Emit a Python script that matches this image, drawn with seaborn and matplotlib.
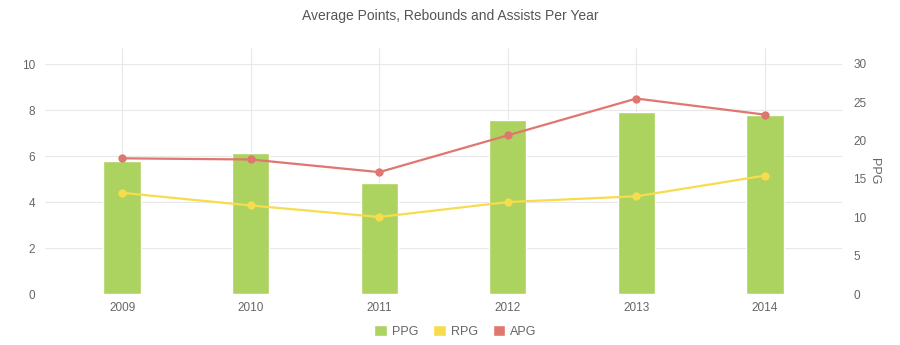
import numpy as np
import pandas as pd
import matplotlib
matplotlib.use("Agg")
import matplotlib.pyplot as plt
from matplotlib.patches import Patch
from matplotlib.ticker import MultipleLocator
import seaborn as sns

years = ["2009", "2010", "2011", "2012", "2013", "2014"]
ppg = [17.4, 18.4, 14.5, 22.7, 23.8, 23.3]
rpg = [4.4, 3.85, 3.35, 4.0, 4.25, 5.15]
apg = [5.9, 5.85, 5.3, 6.9, 8.5, 7.8]

GREEN = "#acd35f"
YELLOW = "#f7dc4e"
RED = "#e07670"
TXT = "#666666"
GRID = "#e8e8e8"

sns.set_theme(style="white")
plt.rcParams["font.family"] = ["Liberation Sans", "DejaVu Sans"]

fig = plt.figure(figsize=(9, 3.45), dpi=100)
ax = fig.add_axes([0.05, 0.1478, 0.8856, 0.7132])

df = pd.DataFrame({"year": years, "PPG": ppg, "RPG": rpg, "APG": apg})

# Bars (PPG) on primary axis, shown on the right
sns.barplot(data=df, x="year", y="PPG", order=years, color=GREEN,
            width=0.29, saturation=1, ax=ax, zorder=2)

# Lines (RPG, APG) on twin axis, shown on the left
ax2 = ax.twinx()
xpos = np.arange(len(years))
sns.lineplot(x=xpos, y=rpg, color=YELLOW, marker="o", markersize=6,
             markeredgewidth=0, linewidth=1.6, ax=ax2)
sns.lineplot(x=xpos, y=apg, color=RED, marker="o", markersize=6,
             markeredgewidth=0, linewidth=1.6, ax=ax2)

ax.set_xlim(-0.6, 5.6)
ax.set_ylim(0, 32.09)
ax.yaxis.tick_right()
ax.yaxis.set_label_position("right")
ax.set_yticks([0, 5, 10, 15, 20, 25, 30])
ax.yaxis.set_minor_locator(MultipleLocator(6))
ax.yaxis.remove_overlapping_locs = False
ax.grid(which="minor", axis="y", color=GRID, linewidth=0.8, zorder=0)
ax.grid(which="major", axis="x", color=GRID, linewidth=0.8, zorder=0)
ax.set_axisbelow(True)
ax.tick_params(axis="y", which="both", length=0, labelsize=8.5, labelcolor=TXT, pad=8,
               left=False, labelleft=False, right=False, labelright=True)
ax.tick_params(axis="x", length=0, labelsize=8.5, labelcolor=TXT, pad=6)
ax.set_xlabel("")
ax.set_ylabel("PPG", color=TXT, fontsize=9, rotation=270, labelpad=10)
for s in ax.spines.values():
    s.set_visible(False)

ax2.set_ylim(0, 10.7)
ax2.set_yticks([0, 2, 4, 6, 8, 10])
ax2.yaxis.tick_left()
ax2.tick_params(axis="y", length=0, labelsize=8.5, labelcolor=TXT, pad=7,
                left=False, labelleft=True, right=False, labelright=False)
ax2.set_ylabel("")
for s in ax2.spines.values():
    s.set_visible(False)

fig.suptitle("Average Points, Rebounds and Assists Per Year", y=0.975,
             fontsize=10, color="#555555")

handles = [Patch(facecolor=GREEN, label="PPG"),
           Patch(facecolor=YELLOW, label="RPG"),
           Patch(facecolor=RED, label="APG")]
fig.legend(handles=handles, loc="center", bbox_to_anchor=(0.506, 0.04),
           ncol=3, frameon=False, fontsize=9, labelcolor=TXT,
           handlelength=1.0, handleheight=1.0, handletextpad=0.4,
           columnspacing=1.2)

fig.savefig("out.png", dpi=100, facecolor="white")
